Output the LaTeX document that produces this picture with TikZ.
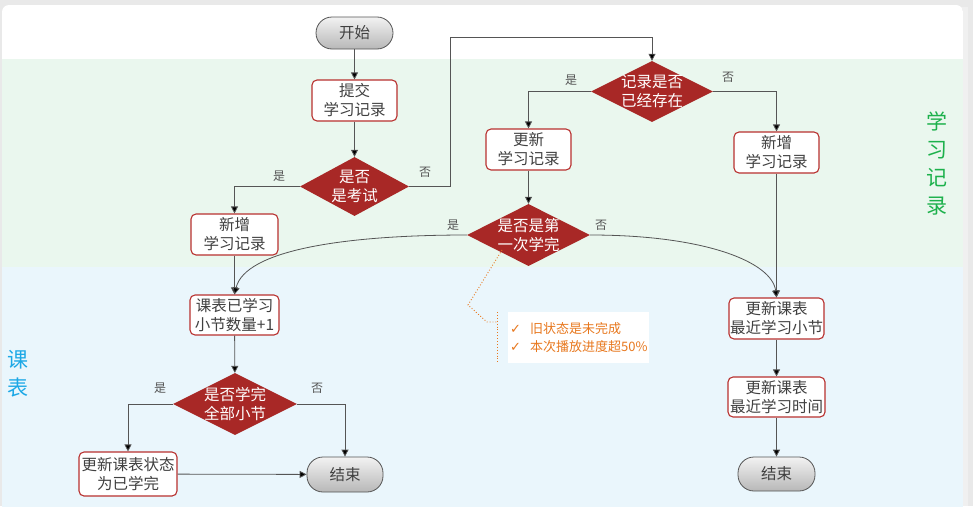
\documentclass[tikz,border=0pt]{standalone}
\usepackage{fontspec}
\setmainfont{Noto Sans CJK SC}
\newfontfamily\symfont{DejaVu Sans}
\usetikzlibrary{shapes.geometric,arrows.meta,calc}

\definecolor{pagegray}{HTML}{E9E9E9}
\definecolor{bandgreen}{HTML}{EAF7EE}
\definecolor{bandblue}{HTML}{EAF6FC}
\definecolor{boxred}{HTML}{B8312F}
\definecolor{diared}{HTML}{A82826}
\definecolor{linegray}{HTML}{555555}
\definecolor{txtgray}{HTML}{404040}
\definecolor{noteorange}{HTML}{E8781E}
\definecolor{lanegreen}{HTML}{1DB14C}
\definecolor{laneblue}{HTML}{1CA8E6}

\tikzset{
  procbox/.style={draw=boxred, line width=1.1pt, fill=white, rounded corners=5pt,
    inner sep=0pt, align=center, text=txtgray,
    font=\fontsize{15.5}{19}\selectfont},
  termbox/.style={draw=linegray, line width=0.8pt, rounded corners=16pt,
    top color=white!95!black, bottom color=black!28, inner sep=0pt,
    text=txtgray, font=\fontsize{15.5}{19}\selectfont},
  decide/.style={diamond, fill=diared, draw=none, inner sep=0pt, aspect=2},
  dlab/.style={text=white, align=center, font=\fontsize{15.5}{19}\selectfont},
  flow/.style={draw=linegray, line width=0.8pt,
    -{Triangle[length=7pt,width=7pt,fill=black]}},
  yn/.style={text=linegray, font=\fontsize{12}{14}\selectfont},
  lane/.style={align=center, font=\fontsize{21}{28}\selectfont},
  notelink/.style={draw=noteorange, line width=0.9pt, dotted},
}
\newcommand{\chk}{{\symfont\fontsize{13}{18}\selectfont ✓}\hspace{9pt}}

\begin{document}
\begin{tikzpicture}[x=1pt, y=-1pt]
\useasboundingbox (0,0) rectangle (973,506);

% page, panel and swim-lane bands
\fill[pagegray] (0,0) rectangle (973,506);
\fill[black!6] (4,7) rectangle (968,506);
\begin{scope}
  \clip[rounded corners=7pt] (2,5) rectangle (963,530);
  \fill[white] (2,5) rectangle (963,530);
  \fill[bandgreen] (2,59) rectangle (963,267);
  \fill[bandblue] (2,267) rectangle (963,530);
\end{scope}

% lane titles
\node[lane, text=lanegreen] (laneRec) at (937,163) {学\\习\\记\\录};
\node[lane, text=laneblue] (laneTab) at (17.5,374) {课\\表};

% nodes
\node[termbox, minimum width=77pt, minimum height=32pt] (start) at (354.5,33) {开始};
\node[procbox, minimum width=85pt, minimum height=41pt] (submit) at (354.5,100.5) {提交\\学习记录};
\node[decide, minimum width=109pt, minimum height=59pt,
  label={[dlab]center:是否\\是考试}] (exam) at (354.5,186.5) {};
\node[procbox, minimum width=87pt, minimum height=41pt] (addL) at (234.5,234.5) {新增\\学习记录};

\node[decide, minimum width=122pt, minimum height=61pt,
  label={[dlab]center:记录是否\\已经存在}] (exists) at (652,91.5) {};
\node[procbox, minimum width=85pt, minimum height=41pt] (upd) at (528.5,149.5) {更新\\学习记录};
\node[procbox, minimum width=85pt, minimum height=41pt] (addR) at (776.5,152.5) {新增\\学习记录};
\node[decide, minimum width=123pt, minimum height=62pt,
  label={[dlab]center:是否是第\\一次学完}] (first) at (528.5,235) {};

\node[procbox, minimum width=89pt, minimum height=40pt] (count) at (234.5,315) {课表已学习\\小节数量+1};
\node[decide, minimum width=124pt, minimum height=62pt,
  label={[dlab]center:是否学完\\全部小节}] (all) at (235,404) {};
\node[procbox, minimum width=98pt, minimum height=44pt] (done) at (128,474) {更新课表状态\\为已学完};
\node[termbox, minimum width=76pt, minimum height=35pt] (endL) at (345,474.5) {结束};

\node[procbox, minimum width=95pt, minimum height=41pt] (sect) at (776.5,318.5) {更新课表\\最近学习小节};
\node[procbox, minimum width=97pt, minimum height=40pt] (time) at (776.5,397) {更新课表\\最近学习时间};
\node[termbox, minimum width=77pt, minimum height=34pt] (endR) at (776.5,474) {结束};

% annotation
\node[fill=white, minimum width=141pt, minimum height=51pt, inner sep=0pt] (note) at (578,337.5) {};
\node[anchor=west, text=noteorange, font=\fontsize{13}{18}\selectfont, align=left, inner sep=0pt]
  (notetxt) at (510,338) {\chk 旧状态是未完成\\\chk 本次播放进度超50\%};
\coordinate (bkTop) at (497,312);
\coordinate (bkBot) at (497,363);
\coordinate (bkMid) at (497,322);
\coordinate (bend1) at (468,305);
\coordinate (bend2) at (487,322);
\coordinate (tipA) at (502,250);
\draw[notelink] (bkTop) -- (bkBot);
\draw[notelink] (tipA) -- (bend1) -- (bend2) -- (bkMid);

% connectors
\draw[flow] (start) -- (submit);
\draw[flow] (submit) -- (exam);
\draw[flow] (exam.west) -| (addL.north);
\coordinate (up1) at (450,186.5);
\coordinate (up2) at (450,37);
\draw[flow] (exam.east) -- (up1) -- (up2) -| (exists.north);
\draw[flow] (exists.west) -| (upd.north);
\draw[flow] (exists.east) -| (addR.north);
\draw[flow] (upd) -- (first);
\draw[flow] (addL) -- (count);
\draw[flow] (addR) -- (sect);
\draw[flow] (first.west) .. controls (345,235) and (245,250) .. (count.north);
\draw[flow] (first.east) .. controls (705,235) and (772,262) .. (sect.north);
\draw[flow] (count) -- (all);
\draw[flow] (all.west) -| (done.north);
\draw[flow] (all.east) -| (endL.north);
\draw[flow] (done) -- (endL);
\draw[flow] (sect) -- (time);
\draw[flow] (time) -- (endR);

% branch labels
\node[yn] (y1) at (279,176) {是};
\node[yn] (n1) at (425,172) {否};
\node[yn] (y2) at (571,80) {是};
\node[yn] (n2) at (728,77) {否};
\node[yn] (y3) at (453,225) {是};
\node[yn] (n3) at (601,225) {否};
\node[yn] (y4) at (160,388) {是};
\node[yn] (n4) at (317,388) {否};
\end{tikzpicture}
\end{document}
